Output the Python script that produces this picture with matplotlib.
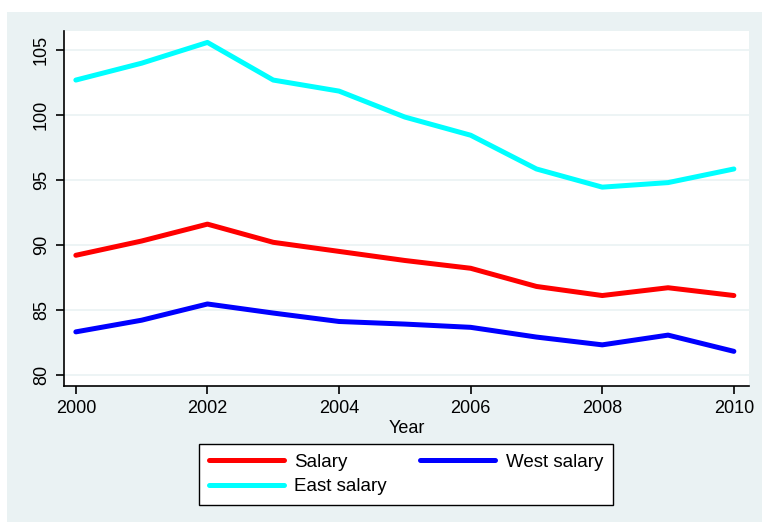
import matplotlib
matplotlib.use('Agg')
import matplotlib.pyplot as plt
from matplotlib.patches import Rectangle

# ===== DATA =====
years = [2000, 2001, 2002, 2003, 2004, 2005, 2006, 2007, 2008, 2009, 2010]
salary = [89.2, 90.3, 91.6, 90.2, 89.5, 88.8, 88.2, 86.8, 86.1, 86.7, 86.1]
west_salary = [83.3, 84.2, 85.45, 84.75, 84.1, 83.9, 83.65, 82.9, 82.3, 83.05, 81.8]
east_salary = [102.7, 104.0, 105.6, 102.7, 101.85, 99.85, 98.45, 95.85, 94.45, 94.8, 95.85]
x_ticks = [2000, 2002, 2004, 2006, 2008, 2010]
y_ticks = [80, 85, 90, 95, 100, 105]
# ================

BG = '#EAF2F3'
plt.rcParams['font.family'] = ['Liberation Sans', 'DejaVu Sans']

fig = plt.figure(figsize=(7.62, 5.22), dpi=100)
fig.patch.set_facecolor('white')
fig.add_artist(Rectangle((7 / 762, 0), 1, (522 - 12) / 522,
                         transform=fig.transFigure, facecolor=BG,
                         edgecolor='none', zorder=-10))

ax = fig.add_axes([64 / 762, (522 - 386) / 522, (749 - 64) / 762, (386 - 31) / 522])
ax.set_facecolor('white')

for y in y_ticks:
    ax.axhline(y, color=BG, linewidth=1.2, zorder=1)

l1, = ax.plot(years, salary, color='#FF0000', linewidth=3.6, label='Salary',
              solid_capstyle='round', zorder=3)
l2, = ax.plot(years, west_salary, color='#0000FF', linewidth=3.6, label='West salary',
              solid_capstyle='round', zorder=3)
l3, = ax.plot(years, east_salary, color='#00FFFF', linewidth=3.6, label='East salary',
              solid_capstyle='round', zorder=3)

ax.set_xlim(1999.82, 2010.23)
ax.set_ylim(79.13, 106.48)
ax.set_xticks(x_ticks)
ax.set_yticks(y_ticks)
ax.spines['top'].set_visible(False)
ax.spines['right'].set_visible(False)
for s in ('left', 'bottom'):
    ax.spines[s].set_linewidth(1.2)
ax.tick_params(direction='out', length=6, width=1.2, labelsize=13, pad=4)
for lab in ax.get_yticklabels():
    lab.set_rotation(90)
    lab.set_va('center')
ax.set_xlabel('Year', fontsize=13, labelpad=2)

leg = fig.legend([l1, l3, l2], ['Salary', 'East salary', 'West salary'],
                 ncol=2, loc='upper left',
                 bbox_to_anchor=(199 / 762, (522 - 444) / 522),
                 borderaxespad=0,
                 fontsize=13.5, handlelength=4.0, handletextpad=0.55,
                 columnspacing=1.8, labelspacing=0.38, borderpad=0.52,
                 fancybox=False, framealpha=1, edgecolor='black')
leg.get_frame().set_linewidth(1.0)

plt.savefig('out.png', dpi=100)
